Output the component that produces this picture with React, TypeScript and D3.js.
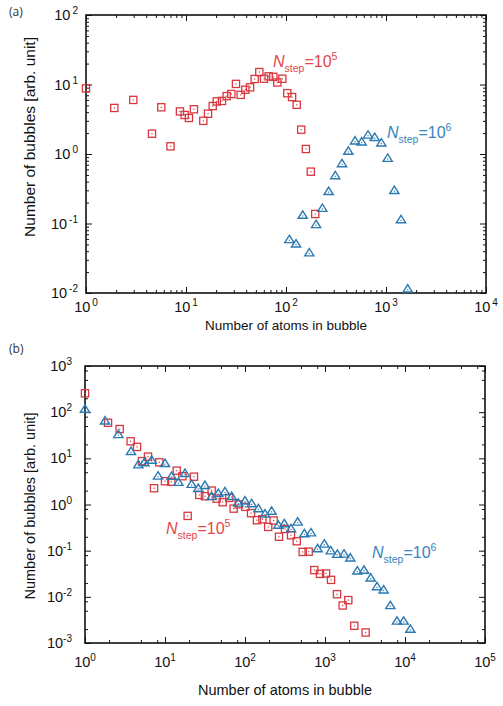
import React, { useEffect, useRef } from "react";
import * as d3 from "d3";

// panel (a): size distribution of bubbles
const aSquares: [number, number][] = [
  [1, 8.8], [1.92, 4.6], [2.97, 6.0], [4.57, 1.96], [5.66, 4.7], [7.0, 1.29],
  [8.7, 4.1], [9.7, 3.64], [10.7, 3.3], [12.0, 4.4], [14.9, 3.0], [16.6, 3.8],
  [18.5, 4.9], [20.3, 5.7], [22.9, 5.8], [25.5, 6.8], [28.4, 7.3], [31.6, 10.2],
  [35.2, 7.1], [39.2, 8.4], [43.7, 9.1], [48.6, 12.0], [54.1, 15.1], [60.3, 12.1],
  [67.1, 13.1], [74.7, 12.9], [81.9, 10.7], [91.9, 12.1], [103, 7.5], [115, 6.6],
  [128, 5.1], [142, 2.24], [158, 1.18], [177, 0.557], [196, 0.137],
];
const aTriangles: [number, number][] = [
  [108, 0.059], [126, 0.051], [147, 0.132], [171, 0.038], [200, 0.097],
  [231, 0.166], [267, 0.29], [311, 0.49], [363, 0.73], [420, 1.1], [490, 1.55],
  [571, 1.5], [661, 1.88], [771, 1.74], [898, 1.45], [1040, 0.87], [1211, 0.3],
  [1413, 0.114], [1648, 0.0115],
];

// panel (b)
const bSquares: [number, number][] = [
  [1, 256], [1.94, 59], [2.71, 43], [3.72, 23.4], [4.47, 17.7], [5.16, 8.7],
  [6.13, 10.9], [7.29, 2.25], [8.49, 8.2], [10, 3.19], [12.0, 3.1], [14.0, 5.4],
  [16.5, 4.1], [19.2, 0.567], [23.0, 4.0], [26.8, 1.61], [31.6, 1.51], [38.3, 2.0],
  [44.2, 1.34], [52.6, 1.12], [63.6, 1.39], [72.1, 0.815], [83.4, 1.01], [101, 0.89],
  [119, 0.65], [141, 0.457], [165, 0.48], [195, 0.327], [228, 0.45], [266, 0.2],
  [316, 0.296], [376, 0.216], [443, 0.16], [526, 0.094], [625, 0.095], [735, 0.038],
  [866, 0.0315], [1030, 0.032], [1189, 0.0233], [1413, 0.0114], [1663, 0.0065],
  [1955, 0.0085], [2323, 0.00236], [3222, 0.00169],
];
const bTriangles: [number, number][] = [
  [1, 117], [1.78, 65], [2.61, 33], [3.76, 14.2], [4.64, 7.3], [5.52, 8.1],
  [6.81, 9.2], [8.18, 4.16], [10, 7.8], [12.1, 4.1], [14.7, 3.04], [17.8, 4.75],
  [21.5, 2.75], [26.1, 2.25], [31.6, 2.6], [38.3, 1.51], [46.4, 1.75], [56.2, 1.9],
  [68.1, 1.51], [82.5, 1.08], [100, 1.2], [121, 1.05], [147, 0.815], [178, 0.63],
  [215, 0.72], [261, 0.36], [310, 0.386], [376, 0.3], [455, 0.42], [552, 0.234],
  [668, 0.245], [809, 0.111], [981, 0.14], [1178, 0.1], [1425, 0.084], [1728, 0.085],
  [2070, 0.07], [2535, 0.0366], [3073, 0.038], [3724, 0.0258], [4467, 0.0167],
  [5410, 0.0142], [6560, 0.0065], [7940, 0.003], [9620, 0.003], [11660, 0.002],
];

const aXTicks = [1, 10, 100, 1000, 10000];
const aYTicks = [0.01, 0.1, 1, 10, 100];
const bXTicks = [1, 10, 100, 1000, 10000, 100000];
const bYTicks = [0.001, 0.01, 0.1, 1, 10, 100, 1000];
const aMinor = [2, 3, 4, 5, 6, 7, 8, 9];
const bMinor = [2, 5, 8];

const RED = "#d8383e";
const BLUE = "#2b79b1";
const RED_TXT = "#e2474e";
const BLUE_TXT = "#3985bc";
const FONT = "'Liberation Sans', Arial, sans-serif";

function minorTicks(major: number[], mult: number[]) {
  const out: number[] = [];
  major.slice(0, -1).forEach((m) => mult.forEach((k) => out.push(m * k)));
  return out;
}

function stepLabel(g, x, y, exp, color) {
  const t = g
    .append("text")
    .attr("x", x)
    .attr("y", y)
    .attr("fill", color)
    .style("font-family", FONT)
    .style("font-size", "16px");
  t.append("tspan").text("N").style("font-style", "italic");
  t.append("tspan").attr("dy", 5).style("font-size", "10.5px").text("step");
  t.append("tspan").attr("dy", -5).text("=10");
  t.append("tspan").attr("dy", -7).style("font-size", "10.5px").text(exp);
}

function drawPanel(svg, p) {
  const x = d3.scaleLog().domain(p.xDomain).range([p.left, p.right]);
  const y = d3.scaleLog().domain(p.yDomain).range([p.bottom, p.top]);
  const g = svg.append("g");

  // ticks, all pointing inward
  const xMin = minorTicks(p.xTicks, p.minor);
  const yMin = minorTicks(p.yTicks, p.minor);
  const axes = [
    [d3.axisBottom(x), `translate(0,${p.bottom})`, p.xTicks, xMin],
    [d3.axisTop(x), `translate(0,${p.top})`, p.xTicks, xMin],
    [d3.axisLeft(y), `translate(${p.left},0)`, p.yTicks, yMin],
    [d3.axisRight(y), `translate(${p.right},0)`, p.yTicks, yMin],
  ];
  axes.forEach(([ax, tr, maj, min]) => {
    [[maj, 6], [min, 3]].forEach(([vals, len]) => {
      const a = g
        .append("g")
        .attr("transform", tr)
        .call(ax.tickValues(vals).tickSize(-len).tickFormat(() => ""));
      a.select(".domain").remove();
      a.selectAll("line").attr("stroke", "#111").attr("stroke-width", 1);
    });
  });

  g.append("rect")
    .attr("x", p.left)
    .attr("y", p.top)
    .attr("width", p.right - p.left)
    .attr("height", p.bottom - p.top)
    .attr("fill", "none")
    .attr("stroke", "#111")
    .attr("stroke-width", 1.6);

  // tick labels
  p.xTicks.forEach((v) => {
    const t = g
      .append("text")
      .attr("x", x(v))
      .attr("y", p.xLabelY)
      .attr("text-anchor", "middle")
      .style("font-family", FONT)
      .style("font-size", "14.5px")
      .attr("fill", "#111");
    t.append("tspan").text("10");
    t.append("tspan")
      .attr("dx", p.supGap)
      .attr("dy", -6)
      .style("font-size", "10px")
      .text(Math.round(Math.log10(v)));
  });
  p.yTicks.forEach((v) => {
    const t = g
      .append("text")
      .attr("x", p.left - p.yLabelGap)
      .attr("y", y(v) + 5)
      .attr("text-anchor", "end")
      .style("font-family", FONT)
      .style("font-size", "14.5px")
      .attr("fill", "#111");
    t.append("tspan").text("10");
    t.append("tspan")
      .attr("dx", p.supGap)
      .attr("dy", -6)
      .style("font-size", "10px")
      .text(Math.round(Math.log10(v)));
  });

  // axis titles
  g.append("text")
    .attr("x", (p.left + p.right) / 2)
    .attr("y", p.titleY)
    .attr("text-anchor", "middle")
    .style("font-family", FONT)
    .style("font-size", p.titleSize)
    .attr("fill", "#111")
    .text("Number of atoms in bubble");
  g.append("text")
    .attr("transform", `translate(35,${p.yTitleMid}) rotate(-90)`)
    .attr("text-anchor", "middle")
    .style("font-family", FONT)
    .style("font-size", p.yTitleSize)
    .attr("fill", "#111")
    .text("Number of bubbles [arb. unit]");
  g.append("text")
    .attr("x", 9)
    .attr("y", p.tagY)
    .style("font-family", "'Open Sans', 'Liberation Sans', sans-serif")
    .style("font-size", "12px")
    .attr("fill", "#333")
    .text(p.tag);

  // markers
  const sq = g.append("g");
  p.squares.forEach(([a, b]) => {
    sq.append("rect")
      .attr("x", x(a) - 3.6)
      .attr("y", y(b) - 3.6)
      .attr("width", 7.2)
      .attr("height", 7.2)
      .attr("fill", "none")
      .attr("stroke", RED)
      .attr("stroke-width", 1.3);
    sq.append("rect")
      .attr("x", x(a) - 0.6)
      .attr("y", y(b) - 0.6)
      .attr("width", 1.2)
      .attr("height", 1.2)
      .attr("fill", RED);
  });
  const tri = g.append("g");
  p.triangles.forEach(([a, b]) => {
    const cx = x(a);
    const cy = y(b);
    tri.append("path")
      .attr("d", `M${cx},${cy - 4.2}L${cx + 4.6},${cy + 3.2}L${cx - 4.6},${cy + 3.2}Z`)
      .attr("fill", "none")
      .attr("stroke", BLUE)
      .attr("stroke-width", 1.4)
      .attr("stroke-linejoin", "miter");
    tri.append("rect")
      .attr("x", cx - 0.6)
      .attr("y", cy + 0.2)
      .attr("width", 1.2)
      .attr("height", 1.2)
      .attr("fill", BLUE);
  });

  p.labels.forEach((l) => stepLabel(g, l.x, l.y, l.exp, l.color));
}

export default function App() {
  const ref = useRef<SVGSVGElement>(null);

  useEffect(() => {
    const svg = d3.select(ref.current);
    svg.selectAll("*").remove();

    drawPanel(svg, {
      xDomain: [1, 1e4],
      yDomain: [1e-2, 1e2],
      left: 86, right: 486, top: 15, bottom: 293,
      xTicks: aXTicks, yTicks: aYTicks, minor: aMinor,
      xLabelY: 312, yLabelGap: 8, supGap: 2,
      titleY: 330, titleSize: "13.5px",
      yTitleMid: 137, yTitleSize: "15.5px",
      tag: "(a)", tagY: 16,
      squares: aSquares, triangles: aTriangles,
      labels: [
        { x: 273, y: 67, exp: "5", color: RED_TXT },
        { x: 387, y: 138, exp: "6", color: BLUE_TXT },
      ],
    });

    drawPanel(svg, {
      xDomain: [1, 1e5],
      yDomain: [1e-3, 1e3],
      left: 85, right: 485, top: 366, bottom: 643,
      xTicks: bXTicks, yTicks: bYTicks, minor: bMinor,
      xLabelY: 667, yLabelGap: 13, supGap: 0,
      titleY: 695, titleSize: "14.5px",
      yTitleMid: 506, yTitleSize: "14.5px",
      tag: "(b)", tagY: 353,
      squares: bSquares, triangles: bTriangles,
      labels: [
        { x: 166, y: 534, exp: "5", color: RED_TXT },
        { x: 372, y: 558, exp: "6", color: BLUE_TXT },
      ],
    });
  }, []);

  return (
    <svg
      ref={ref}
      width={503}
      height={706}
      style={{ position: "absolute", left: 0, top: 0, background: "#fff" }}
    />
  );
}
